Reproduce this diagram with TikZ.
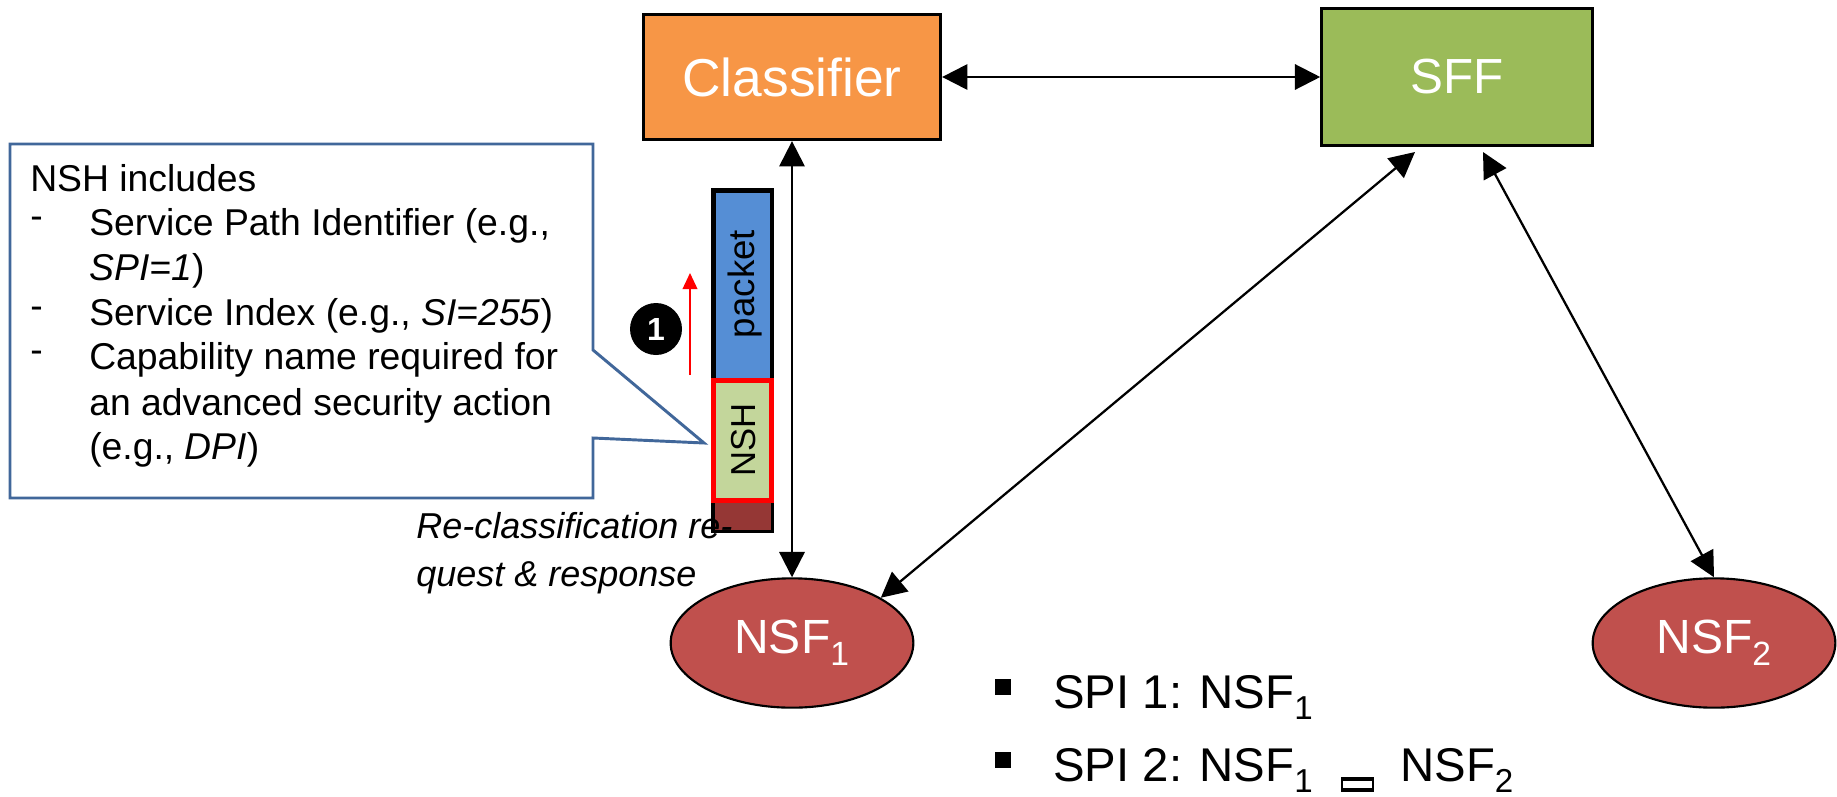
\documentclass[tikz,border=0pt]{standalone}
\usepackage{fontspec}
\setmainfont{Liberation Sans}
\usetikzlibrary{arrows.meta}
\usetikzlibrary{shapes.geometric}
\definecolor{clsorange}{HTML}{F79646}
\definecolor{sffgreen}{HTML}{9BBB59}
\definecolor{nsfred}{HTML}{C0504D}
\definecolor{pktblue}{HTML}{558ED5}
\definecolor{nshgreen}{HTML}{C3D69B}
\definecolor{tailred}{HTML}{953735}
\definecolor{noteblue}{HTML}{41679A}
\tikzset{
  box/.style={draw=black,line width=2.2pt,text=white,font=\fontsize{40}{40}\selectfont,inner sep=0pt},
  nsf/.style={draw=black,line width=1.6pt,ellipse,fill=nsfred,minimum width=182pt,minimum height=97pt,text=white,font=\fontsize{36}{36}\selectfont,inner sep=0pt},
  link/.style={<->,>={Triangle[length=19pt,width=19pt]},line width=1.7pt},
  notetxt/.style={anchor=base west,inner sep=0pt,font=\fontsize{28}{28}\selectfont},
  reqtxt/.style={anchor=base west,inner sep=0pt,font=\itshape\fontsize{27}{27}\selectfont},
  listtxt/.style={anchor=base west,inner sep=0pt,font=\fontsize{35.5}{36}\selectfont},
  bartxt/.style={rotate=90,inner sep=0pt},
  bullet/.style={fill=black,minimum size=12pt,inner sep=0pt},
}
\begin{document}
\begin{tikzpicture}[x=0.75pt,y=-0.75pt]
% text columns of the note
\newcommand{\dashx}{30}
\newcommand{\notex}{89}
\useasboundingbox (0,0) rectangle (1837,796);
\clip (0,0) rectangle (1837,796);

% Main nodes
\node[box,fill=clsorange,minimum width=223pt,minimum height=94pt] (classifier) at (792,77) {Classifier};
\node[box,fill=sffgreen,minimum width=203pt,minimum height=103pt] (sff) at (1457,77) {\fontsize{37}{37}\selectfont SFF};
\node[nsf] (nsfone) at (792,643) {\raisebox{-3pt}{NSF\textsubscript{1}}};
\node[nsf] (nsftwo) at (1714,643) {\raisebox{-3pt}{NSF\textsubscript{2}}};

% Packet
\node[draw=black,line width=3.5pt,fill=pktblue,minimum width=44pt,minimum height=255pt,inner sep=0pt] (pktbar) at (742.5,360.5) {};
\node[fill=tailred,minimum width=42pt,minimum height=22pt,inner sep=0pt] (pkttail) at (742.5,515) {};
\node[draw=red,line width=3.8pt,fill=nshgreen,minimum width=44pt,minimum height=90pt,inner sep=0pt] (nshbox) at (742.5,440.5) {};
\node[bartxt,font=\fontsize{27.5}{28}\selectfont] (pktlabel) at (745,284) {packet};
\node[bartxt,font=\fontsize{26}{26}\selectfont] (nshlabel) at (744,440) {NSH};

% Arrows
\coordinate (sffa) at (1415,152);
\coordinate (sffb) at (1483,152);
\draw[link] (classifier) -- (sff);
\draw[link] (classifier) -- (nsfone);
\draw[link] (sffa) -- (nsfone.27);
\draw[link] (sffb) -- (nsftwo.north);

% Step
\coordinate (stepa) at (690,375);
\coordinate (stepb) at (690,273);
\draw[-{Triangle[length=12pt,width=11pt]},red,line width=1.2pt] (stepa) -- (stepb);
\node[circle,fill=black,minimum size=39pt,inner sep=0pt,text=white,font=\bfseries\fontsize{24}{24}\selectfont] (stepone) at (656,329) {1};

% Note
\draw[noteblue,line width=2.2pt,fill=white] (10,144)--(593,144)--(593,350)--(704,443)--(593,438)--(593,498)--(10,498)--cycle;
\node[notetxt] (noteh) at (30,191) {NSH includes};
\node[notetxt] (dasha) at (\dashx,228) {-};
\node[notetxt] (notea) at (\notex,235) {Service Path Identifier (e.g.,};
\node[notetxt] (noteb) at (\notex,280) {\textit{SPI=1})};
\node[notetxt] (dashb) at (\dashx,318) {-};
\node[notetxt] (notec) at (\notex,325) {Service Index (e.g., \textit{SI=255})};
\node[notetxt] (dashc) at (\dashx,362) {-};
\node[notetxt] (noted) at (\notex,369) {Capability name required for};
\node[notetxt] (notee) at (\notex,415) {an advanced security action};
\node[notetxt] (notef) at (\notex,459) {(e.g., \textit{DPI})};

% Request label
\node[reqtxt] (reqa) at (416,538) {Re-classification re-};
\node[reqtxt] (reqb) at (416,586) {quest \& response};

% Chains
\node[bullet] (bula) at (1003,687) {};
\node[bullet] (bulb) at (1003,760) {};
\node[listtxt] (chaina) at (1053,708) {SPI 1: NSF\textsubscript{1}};
\node[listtxt] (chainb) at (1053,781) {SPI 2: NSF\textsubscript{1}};
\draw[line width=0.8pt] (1342,778)--(1342,790);
\draw[line width=0.8pt] (1373,778)--(1373,790);
\draw[line width=2.6pt] (1341,779)--(1374,779);
\draw[line width=2.4pt] (1341,790)--(1374,790);
\node[listtxt] (chainc) at (1400,781) {NSF\textsubscript{2}};
\end{tikzpicture}
\end{document}
